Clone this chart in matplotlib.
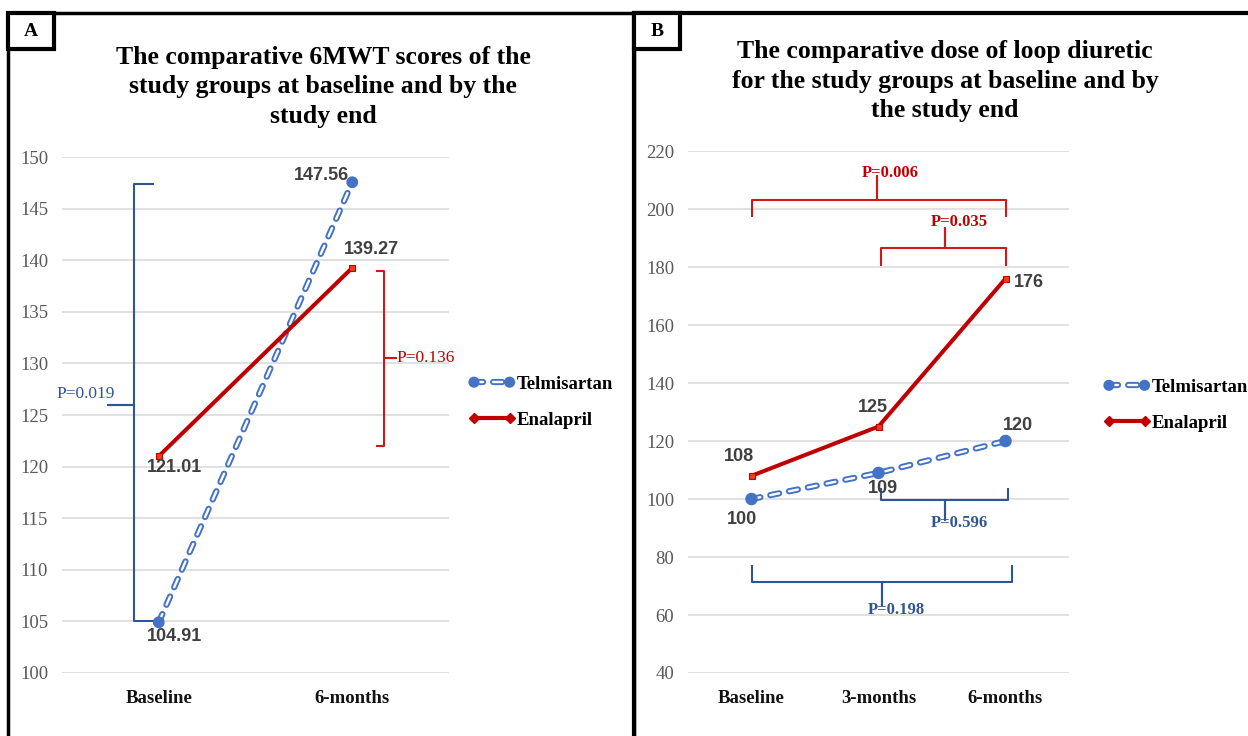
import matplotlib
matplotlib.use("Agg")
import matplotlib.pyplot as plt
import matplotlib.patheffects as pe
from matplotlib.lines import Line2D
from matplotlib.patches import Rectangle

plt.rcParams['lines.scale_dashes'] = False

# data
cats_a = ['Baseline', '6-months']
telmi_6mwt = [104.91, 147.56]
enal_6mwt = [121.01, 139.27]

cats_b = ['Baseline', '3-months', '6-months']
telmi_dose = [100, 109, 120]
enal_dose = [108, 125, 176]

BLUE = '#4472C4'
DBLUE = '#2F5597'
RED = '#C00000'
SERIF = 'Liberation Serif'
SANS = 'Liberation Sans'

TELMI_STYLE = dict(color='white', lw=1.7, linestyle=(0, (6.5, 7.3)), dash_capstyle='round',
                   marker='o', mfc=BLUE, mec=BLUE, mew=0.5,
                   path_effects=[pe.Stroke(linewidth=4.5, foreground=BLUE), pe.Normal()])


def telmi_line(ax, x, y, ms=4.0):
    ax.plot(x, y, ms=ms, label='Telmisartan', zorder=3, **TELMI_STYLE)


def enal_line(ax, x, y):
    ax.plot(x, y, color=RED, lw=2.9, marker='s', ms=5, mfc='#E8401C', mec=RED,
            mew=0.8, label='Enalapril', zorder=4)


def style_axis(ax, cats, ylim, step):
    ax.set_xlim(-0.5, len(cats) - 0.5)
    ax.set_ylim(*ylim)
    ax.set_yticks(range(ylim[0], ylim[1] + 1, step))
    ax.set_xticks(range(len(cats)))
    ax.set_xticklabels(cats, fontfamily=SERIF, fontweight='bold', fontsize=13.5, color='#111111')
    for lab in ax.get_yticklabels():
        lab.set_fontfamily(SERIF)
        lab.set_fontsize(13.5)
        lab.set_color('#595959')
    ax.tick_params(length=0, axis='y', pad=10)
    ax.tick_params(length=0, axis='x', pad=12)
    ax.grid(axis='y', color='#D9D9D9', lw=1.1)
    ax.set_axisbelow(True)
    for s in ax.spines.values():
        s.set_visible(False)


def label(ax, x, y, txt, dx, dy, ha='center'):
    ax.annotate(txt, (x, y), xytext=(dx, dy), textcoords='offset points',
                ha=ha, va='center', fontfamily=SANS, fontsize=13, color='#404040',
                fontweight='bold', zorder=6)


def legend(ax, anchor):
    h = [Line2D([], [], ms=3.5, **TELMI_STYLE),
         Line2D([], [], color=RED, lw=3, marker='D', ms=5, mfc=RED, mec=RED)]
    ax.legend(h, ['Telmisartan', 'Enalapril'], loc='center left', bbox_to_anchor=anchor,
              frameon=False, borderaxespad=0, borderpad=0, handlelength=2.5,
              handletextpad=0.1, labelspacing=1.0, numpoints=2,
              prop={'family': SERIF, 'weight': 'bold', 'size': 13.5})


def vbrace(ax, xv, xend_top, xend_bot, ytop, ybot, ymid, xtip, color):
    ax.plot([xend_top, xv, xv, xtip, xv, xv, xend_bot],
            [ytop, ytop, ymid, ymid, ymid, ybot, ybot],
            color=color, lw=1.5, solid_joinstyle='round', clip_on=False, zorder=2)


def hbrace(ax, x0, x1, y, yend, xm, ytip, color):
    ax.plot([x0, x0, xm, xm, xm, x1, x1],
            [yend, y, y, ytip, y, y, yend],
            color=color, lw=1.5, solid_joinstyle='round', clip_on=False, zorder=2)


fig = plt.figure(figsize=(12.48, 7.36), dpi=100)

# ---- panel A ----
axa = fig.add_axes([62 / 1248, 0.0856, 387 / 1248, 0.701])
xa = list(range(len(cats_a)))
telmi_line(axa, xa, telmi_6mwt, ms=4.0)
enal_line(axa, xa, enal_6mwt)
style_axis(axa, cats_a, (100, 150), 5)
legend(axa, (1.05, 0.525))

label(axa, xa[1], telmi_6mwt[1], f'{telmi_6mwt[1]:.2f}', -2, 5, ha='right')
label(axa, xa[1], enal_6mwt[1], f'{enal_6mwt[1]:.2f}', 14, 13)
label(axa, xa[0], enal_6mwt[0], f'{enal_6mwt[0]:.2f}', 11, -8)
label(axa, xa[0], telmi_6mwt[0], f'{telmi_6mwt[0]:.2f}', 11, -10)

vbrace(axa, -0.128, -0.03, -0.02, 147.4, 105.0, 126.0, -0.262, DBLUE)
axa.text(-0.376, 127.0, 'P=0.019', color=DBLUE, fontfamily=SERIF, fontsize=12.5,
         ha='center', va='center')
vbrace(axa, 1.164, 1.13, 1.13, 139.0, 122.0, 130.5, 1.226, '#D01818')
axa.text(1.228, 130.5, 'P=0.136', color='#C00000', fontfamily=SERIF, fontsize=12.5,
         ha='left', va='center')

fig.text(323 / 1248, 0.938, 'The comparative 6MWT scores of the\nstudy groups at baseline and by the\nstudy end',
         ha='center', va='top', fontfamily=SERIF, fontweight='bold', fontsize=18.5,
         linespacing=1.36)

# ---- panel B ----
axb = fig.add_axes([688 / 1248, 0.0856, 381 / 1248, 0.7092])
xb = list(range(len(cats_b)))
telmi_line(axb, xb, telmi_dose, ms=4.5)
enal_line(axb, xb, enal_dose)
style_axis(axb, cats_b, (40, 220), 20)
legend(axb, (1.09, 0.513))

label(axb, xb[0], telmi_dose[0], str(telmi_dose[0]), -7, -15)
label(axb, xb[1], telmi_dose[1], str(telmi_dose[1]), 3.5, -11)
label(axb, xb[2], telmi_dose[2], str(telmi_dose[2]), 9, 11.5)
label(axb, xb[0], enal_dose[0], str(enal_dose[0]), -9, 14)
label(axb, xb[1], enal_dose[1], str(enal_dose[1]), -4, 14)
label(axb, xb[2], enal_dose[2], str(enal_dose[2]), 17, -3)

hbrace(axb, 0.0, 2.0, 203, 197.5, 0.99, 211.5, '#D01818')
axb.text(1.09, 212.5, 'P=0.006', color=RED, fontfamily=SERIF, fontweight='bold',
         fontsize=12, ha='center', va='center')
hbrace(axb, 1.02, 2.0, 186.6, 180.7, 1.52, 193.4, '#D01818')
axb.text(1.64, 195.5, 'P=0.035', color=RED, fontfamily=SERIF, fontweight='bold',
         fontsize=12, ha='center', va='center')
hbrace(axb, 1.02, 2.02, 99.7, 103.4, 1.52, 92.8, DBLUE)
axb.text(1.64, 91.7, 'P=0.596', color=DBLUE, fontfamily=SERIF, fontweight='bold',
         fontsize=12, ha='center', va='center')
hbrace(axb, 0.0, 2.05, 71.4, 76.9, 1.03, 63.4, DBLUE)
axb.text(1.14, 61.7, 'P=0.198', color=DBLUE, fontfamily=SERIF, fontweight='bold',
         fontsize=12, ha='center', va='center')

fig.text(945 / 1248, 0.945, 'The comparative dose of loop diuretic\nfor the study groups at baseline and by\nthe study end',
         ha='center', va='top', fontfamily=SERIF, fontweight='bold', fontsize=18.5,
         linespacing=1.36)

# ---- panel frames and letter boxes ----
W, H = 1248, 736
fig.add_artist(Rectangle((8 / W, -0.05), (634 - 8) / W, (H - 13) / H + 0.05,
                         transform=fig.transFigure, fill=False, lw=2.5, ec='black'))
fig.add_artist(Rectangle((634 / W, -0.05), 0.6, (H - 13) / H + 0.05,
                         transform=fig.transFigure, fill=False, lw=3, ec='black'))
for x0, x1, txt in [(8, 54, 'A'), (634, 680, 'B')]:
    fig.add_artist(Rectangle((x0 / W, 1 - 49 / H), (x1 - x0) / W, 36 / H,
                             transform=fig.transFigure, fc='white', lw=3, ec='black'))
    fig.text((x0 + x1) / 2 / W, 1 - 31 / H, txt, ha='center', va='center',
             fontfamily=SERIF, fontweight='bold', fontsize=14)

fig.savefig('out.png', dpi=100)
